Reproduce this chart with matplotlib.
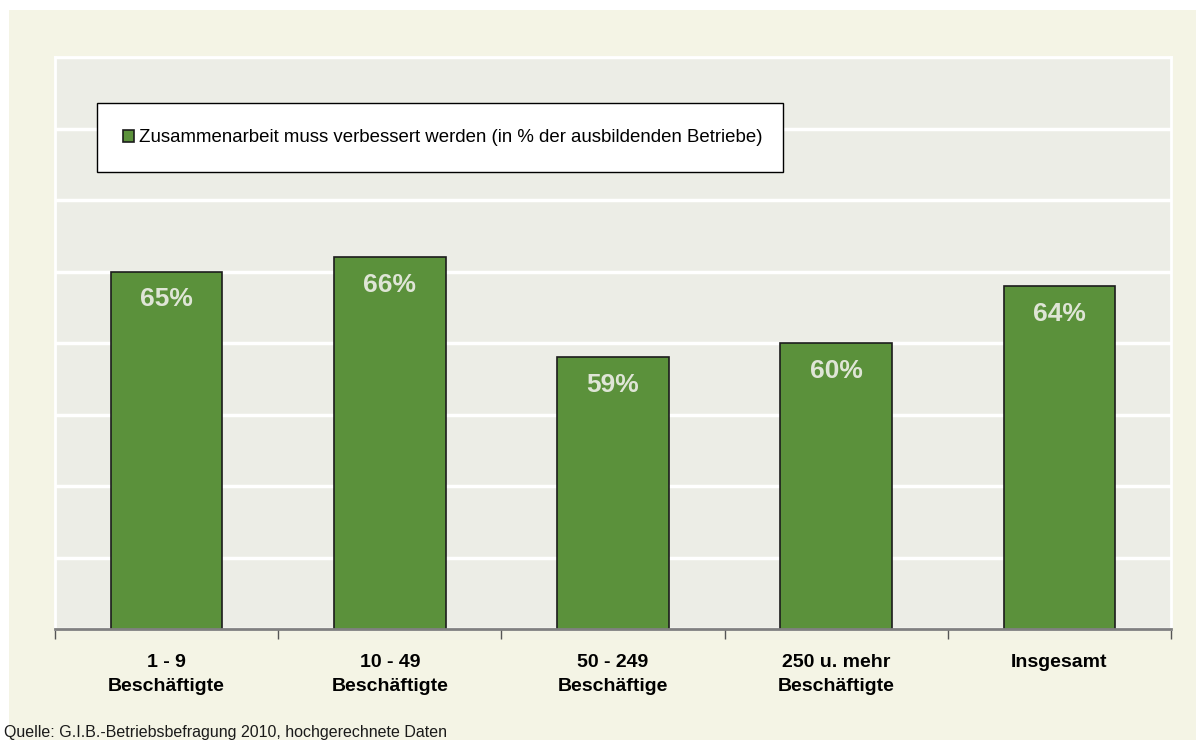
import matplotlib.pyplot as plt
from matplotlib.patches import Rectangle

plt.rcParams['font.family'] = ['Liberation Sans', 'DejaVu Sans']

categories = ['1 - 9\nBeschäftigte', '10 - 49\nBeschäftigte', '50 - 249\nBeschäftige',
              '250 u. mehr\nBeschäftigte', 'Insgesamt']
values = [65, 66, 59, 60, 64]
value_labels = ['65%', '66%', '59%', '60%', '64%']
series_name = 'Zusammenarbeit muss verbessert werden (in % der ausbildenden Betriebe)'
source = 'Quelle: G.I.B.-Betriebsbefragung 2010, hochgerechnete Daten'

W, H = 1196, 740
fig = plt.figure(figsize=(W / 100, H / 100), dpi=100)
fig.patch.set_facecolor('white')
# cream background panel
fig.patches.append(Rectangle((9 / W, 0), 1 - 9 / W, (H - 10) / H,
                             transform=fig.transFigure, facecolor='#f4f4e5',
                             edgecolor='none', zorder=-10))

ax = fig.add_axes([55 / W, (H - 629) / H, (1171 - 55) / W, (629 - 57) / H])
ax.set_facecolor('#ecede6')

x = list(range(len(categories)))
bars = ax.bar(x, values, width=0.5, color='#5b913b', edgecolor='#1c1c1c',
              linewidth=1.2, zorder=3, label=series_name)

for xi, v, lab in zip(x, values, value_labels):
    ax.text(xi, v - 1.95, lab, ha='center', va='center', fontsize=19,
            fontweight='bold', color='#dfe5d6', zorder=4)

ax.set_xlim(-0.5, len(categories) - 0.5)
ax.set_ylim(40, 80)
ax.set_yticks(range(40, 81, 5))
ax.tick_params(axis='y', left=False, labelleft=False)
ax.grid(axis='y', color='white', linewidth=2.5, zorder=1)

ax.set_xticks([i - 0.5 for i in range(len(categories) + 1)])
ax.set_xticklabels([])
ax.set_xticks(x, minor=True)
ax.set_xticklabels(categories, minor=True, fontsize=14, fontweight='bold',
                   linespacing=1.55)
ax.tick_params(axis='x', which='minor', length=0, pad=18)
ax.tick_params(axis='x', which='major', direction='out', length=7,
               color='#555555', width=1)

for s in ['left', 'right', 'top']:
    ax.spines[s].set_color('white')
    ax.spines[s].set_linewidth(2)
ax.spines['bottom'].set_color('#808080')
ax.spines['bottom'].set_linewidth(2)
ax.spines['bottom'].set_zorder(5)

leg = ax.legend(loc='center left', bbox_to_anchor=(42 / 1116, 0.799, 686 / 1116, 0.119),
                mode='expand', fontsize=13.4, frameon=True, fancybox=False,
                edgecolor='black', framealpha=1, borderpad=1.4,
                handlelength=0.6, handleheight=0.6, handletextpad=0.25,
                borderaxespad=0)
leg.get_frame().set_linewidth(1)
leg.set_zorder(6)

fig.text(4 / W, 3 / H, source, fontsize=11.5, color='#1a1a1a', ha='left', va='baseline')

fig.savefig('out.png', dpi=100, facecolor=fig.get_facecolor())
